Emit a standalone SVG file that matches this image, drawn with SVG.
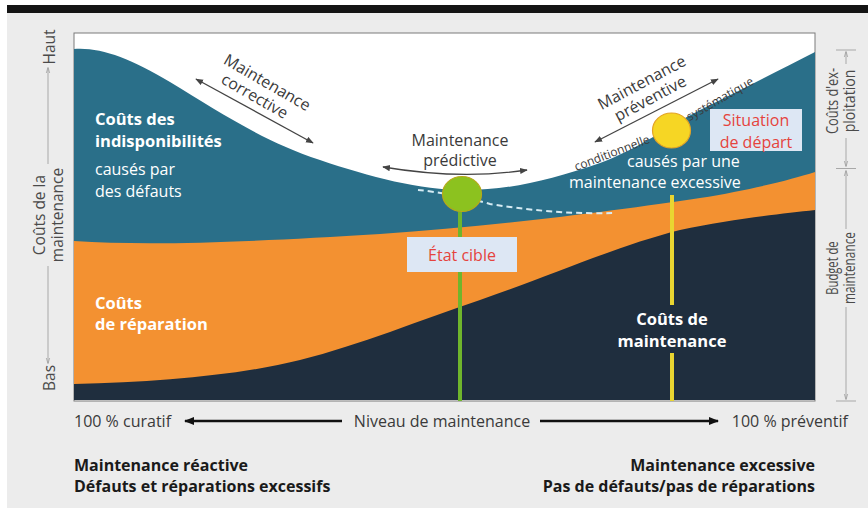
<svg xmlns="http://www.w3.org/2000/svg" width="868" height="508" viewBox="0 0 868 508">
<defs>
<style>
text{font-family:"Open Sans","Liberation Sans",sans-serif}
.wb{fill:#fff;font-weight:bold;font-size:16.5px}
.wn{fill:#fff;font-size:16px}
.lab{fill:#3a3a3a;font-size:16px}
.ax{fill:#4a4a4a;font-size:15.5px}
.axr{fill:#4a4a4a;font-size:16px;text-anchor:middle}
.small{fill:#3a3a3a;font-size:12px}
.red{fill:#e5433d;font-size:16px;text-anchor:middle}
.bot{fill:#1a1a1a;font-weight:bold;font-size:16px}
.thin{stroke:#444;stroke-width:1.3;fill:none}
.axl{stroke:#a8a8a8;stroke-width:1;fill:none}
</style>
<marker id="ah" viewBox="0 0 10 10" refX="9" refY="5" markerWidth="6" markerHeight="6" orient="auto-start-reverse"><path d="M0,1 L10,5 L0,9 z" fill="#444"/></marker>
<marker id="ahb" viewBox="0 0 10 10" refX="9" refY="5" markerWidth="4" markerHeight="4" orient="auto-start-reverse"><path d="M0,1 L10,5 L0,9 z" fill="#111"/></marker>
<marker id="ahg" viewBox="0 0 10 10" refX="9" refY="5" markerWidth="6" markerHeight="6" orient="auto-start-reverse"><path d="M0,2 L10,5 L0,8" fill="none" stroke="#999" stroke-width="1.2"/></marker>
</defs>

<rect x="0" y="0" width="868" height="508" fill="#fff"/>
<rect x="7" y="13" width="861" height="495" fill="#ececec"/>
<rect x="7" y="5" width="861" height="8" fill="#141414"/>

<g id="chart">
<rect x="74" y="33" width="741" height="368" fill="#fff" stroke="#7a7a7a" stroke-width="1"/>
<path id="area-indispo" d="M74,49 C100,47 130,58 170,82 C220,112 260,140 320,160 C370,177 420,190 465,190 C510,190 550,180 600,163 C640,148 665,128 700,110 C740,90 780,70 815,52 L815,400 L74,400 Z" fill="#2a6f89"/>
<path id="area-reparation" d="M74,241 C150,246 250,242 380,234 C500,226 620,210 700,198 C750,190 790,180 815,172 L815,400 L74,400 Z" fill="#f39131"/>
<path id="area-maintenance" d="M74,384 C160,382 240,375 300,360 C360,345 420,320 480,300 C560,272 620,245 680,230 C730,219 780,214 815,210 L815,400 L74,400 Z" fill="#1f2e3e"/>
<path d="M418,190 C440,192 470,198 490,204 C540,212 580,214 613,213" fill="none" stroke="#d6ecf4" stroke-width="2" stroke-dasharray="6 4"/>
</g>

<g id="connectors">
<line x1="196" y1="79" x2="313" y2="143" class="thin" marker-start="url(#ah)" marker-end="url(#ah)"/>
<path d="M383,167 Q460,180 527,170" class="thin" marker-start="url(#ah)" marker-end="url(#ah)"/>
<line x1="595" y1="142" x2="718" y2="79" class="thin" marker-start="url(#ah)" marker-end="url(#ah)"/>
<line x1="460" y1="212" x2="460" y2="401" stroke="#6fb52c" stroke-width="4"/>
<line x1="672" y1="195" x2="672" y2="305" stroke="#e9d531" stroke-width="4"/>
<line x1="672" y1="353" x2="672" y2="401" stroke="#e9d531" stroke-width="4"/>
<line x1="185" y1="421" x2="342" y2="421" stroke="#111" stroke-width="2.5" marker-start="url(#ahb)"/>
<line x1="540" y1="421" x2="718" y2="421" stroke="#111" stroke-width="2.5" marker-end="url(#ahb)"/>
<line x1="48" y1="68" x2="48" y2="164" class="axl" marker-start="url(#ahg)"/>
<line x1="48" y1="266" x2="48" y2="363" class="axl" marker-end="url(#ahg)"/>
<line x1="846" y1="52" x2="846" y2="64" class="axl" marker-start="url(#ahg)"/>
<line x1="846" y1="138" x2="846" y2="166" class="axl" marker-end="url(#ahg)"/>
<line x1="846" y1="171" x2="846" y2="229" class="axl" marker-start="url(#ahg)"/>
<line x1="846" y1="307" x2="846" y2="399" class="axl" marker-end="url(#ahg)"/>
<path d="M836,50 H856 M836,168.5 H856 M836,401 H856" class="axl"/>
</g>

<g id="etat-cible">
<ellipse cx="462" cy="194" rx="19.5" ry="17.5" fill="#8cc21f" stroke="#b8a81a" stroke-width="1.2"/>
<rect x="407" y="237" width="110" height="35" fill="#dde7f4"/>
<text x="462" y="261" class="red" font-size="16.5">État cible</text>
</g>

<g id="situation-depart">
<ellipse cx="671.5" cy="130.5" rx="19" ry="17.5" fill="#f6d624" stroke="#e3a326" stroke-width="1.2"/>
<rect x="710" y="109" width="92" height="42" fill="#dde7f4"/>
<text x="756" y="126" class="red" font-size="15.5">Situation</text>
<text x="756" y="147.5" class="red" font-size="15.5">de départ</text>
</g>

<g id="label-indispo">
<text x="95" y="125" class="wb">Coûts des</text>
<text x="95" y="147" class="wb">indisponibilités</text>
<text x="95" y="175" class="wn">causés par</text>
<text x="95" y="197" class="wn">des défauts</text>
</g>
<g id="label-excessive">
<text x="627" y="167" class="wn">causés par une</text>
<text x="569" y="188" class="wn">maintenance excessive</text>
</g>
<g id="label-reparation">
<text x="95" y="309" class="wb">Coûts</text>
<text x="95" y="330" class="wb">de réparation</text>
</g>
<g id="label-maintenance">
<text x="672" y="325" class="wb" text-anchor="middle">Coûts de</text>
<text x="672" y="347" class="wb" text-anchor="middle">maintenance</text>
</g>

<g id="label-corrective" transform="translate(267,83) rotate(30)">
<text x="0" y="5" class="lab" font-size="15.5" text-anchor="middle">Maintenance</text>
<text x="-4" y="23" class="lab" font-size="15.5" text-anchor="middle">corrective</text>
</g>
<g id="label-predictive">
<text x="460" y="146" class="lab" font-size="16" text-anchor="middle">Maintenance</text>
<text x="460" y="166" class="lab" font-size="16" text-anchor="middle">prédictive</text>
</g>
<g id="label-preventive" transform="translate(642,83) rotate(-28)">
<text x="0" y="5" class="lab" font-size="16" text-anchor="middle">Maintenance</text>
<text x="0" y="23" class="lab" font-size="15.5" text-anchor="middle">préventive</text>
</g>
<text class="small" font-size="11.7" text-anchor="middle" transform="translate(612,153) rotate(-21)" y="4">conditionnelle</text>
<text class="small" text-anchor="middle" transform="translate(720,99) rotate(-30)" y="4">systématique</text>

<g id="axis-left">
<text class="ax" text-anchor="middle" transform="translate(55,47) rotate(-90)">Haut</text>
<text class="ax" text-anchor="middle" transform="translate(45,215) rotate(-90)" font-size="16">Coûts de la</text>
<text class="ax" text-anchor="middle" transform="translate(63,215) rotate(-90)" font-size="16">maintenance</text>
<text class="ax" text-anchor="middle" transform="translate(55,378) rotate(-90)">Bas</text>
</g>
<g id="axis-right">
<text class="axr" transform="translate(838,101) rotate(-90) scale(0.8,1)">Coûts d'ex-</text>
<text class="axr" transform="translate(855,101) rotate(-90) scale(0.88,1)">ploitation</text>
<text class="axr" transform="translate(838,268) rotate(-90) scale(0.7,1)">Budget de</text>
<text class="axr" transform="translate(855,268) rotate(-90) scale(0.74,1)">maintenance</text>
</g>
<g id="axis-bottom">
<text x="74" y="427" class="lab" fill="#444">100 % curatif</text>
<text x="442" y="427" class="lab" text-anchor="middle">Niveau de maintenance</text>
<text x="848" y="427" class="lab" text-anchor="end">100 % préventif</text>
</g>
<g id="captions">
<text x="74" y="471" class="bot">Maintenance réactive</text>
<text x="74" y="492" class="bot">Défauts et réparations excessifs</text>
<text x="815" y="471" class="bot" text-anchor="end">Maintenance excessive</text>
<text x="815" y="492" class="bot" text-anchor="end">Pas de défauts/pas de réparations</text>
</g>
</svg>
